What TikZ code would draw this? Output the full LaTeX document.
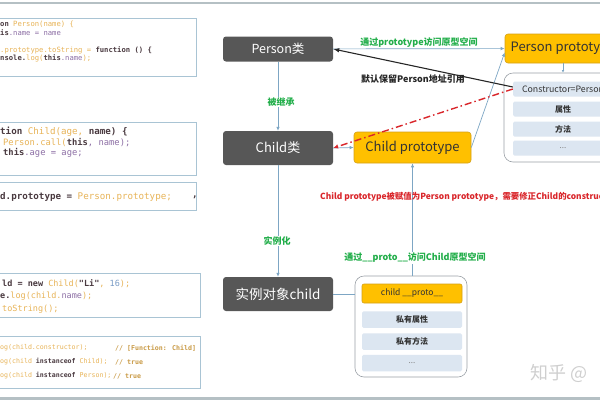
\documentclass[tikz,border=0pt]{standalone}
\usepackage{fontspec}
\setmainfont{Noto Sans CJK SC}
\newfontfamily\codefont{DejaVu Sans Mono}
\usetikzlibrary{arrows.meta, positioning}
\usepackage{xcolor}
\definecolor{nodegrey}{HTML}{575757}
\definecolor{protoyellow}{HTML}{FFC000}
\definecolor{protoedge}{HTML}{D4A017}
\definecolor{slotblue}{HTML}{DCE6F1}
\definecolor{holderedge}{HTML}{9AA0A6}
\definecolor{linkblue}{HTML}{7DA6C4}
\definecolor{notegreen}{HTML}{22AE4A}
\definecolor{notered}{HTML}{D9262B}
\definecolor{codeedge}{HTML}{A9C4D4}
\definecolor{codeorange}{HTML}{E8B458}
\definecolor{codedark}{HTML}{4A3A40}
\definecolor{codepurple}{HTML}{8D6FA5}
\definecolor{codenum}{HTML}{7A9CC6}
\definecolor{codecomment}{HTML}{C99A45}
\definecolor{framegrey}{HTML}{B5C0C4}
\definecolor{markgrey}{HTML}{CFCFCF}
\newcommand{\fsize}[1]{\fontsize{#1}{#1}\selectfont}
\newcommand{\codekw}[1]{\textcolor{codedark}{\bfseries #1}}
\newcommand{\codeid}[1]{\textcolor{codeorange}{#1}}
\newcommand{\codevar}[1]{\textcolor{codepurple}{#1}}
\newcommand{\codeno}[1]{\textcolor{codenum}{#1}}
\newcommand{\codecm}[1]{\textcolor{codecomment}{\bfseries #1}}

\begin{document}
\begin{tikzpicture}[x=1pt, y=-1pt, >={Latex[length=4pt,width=3.5pt]}]
    \tikzstyle{class node}=[rectangle, rounded corners=3pt, fill=nodegrey, text=white, minimum width=110pt, inner sep=0pt]
    \tikzstyle{proto node}=[rectangle, rounded corners=3pt, fill=protoyellow, draw=protoedge, line width=0.6pt, text=black!80, inner sep=0pt]
    \tikzstyle{holder}=[rectangle, rounded corners=9pt, draw=holderedge, fill=white, line width=0.6pt, inner sep=0pt]
    \tikzstyle{slot}=[rectangle, rounded corners=1.5pt, fill=slotblue, minimum width=100pt, inner sep=0pt, text=black!80, font=\fsize{8}]
    \tikzstyle{link}=[->, draw=linkblue, line width=0.7pt]
    \tikzstyle{note}=[inner sep=1pt, font=\fsize{9}\bfseries]
    \tikzstyle{codebox}=[rectangle, draw=codeedge, fill=white, anchor=north west, inner sep=0pt, line width=0.8pt]
    \tikzstyle{code}=[anchor=west, inner sep=0pt]

    \useasboundingbox (0,0) rectangle (600,400);
    \clip (0,0) rectangle (600,400);

    % Frame lines
    \draw[framegrey, line width=1.5pt] (0,3) -- (600,3);
    \draw[framegrey, line width=2.5pt] (0,398.5) -- (600,398.5);

    % Draw the code boxes
    \node[codebox, minimum width=206pt, minimum height=58pt] (code-1) at (-10,18) {};
    \node[codebox, minimum width=206pt, minimum height=53pt] (code-2) at (-10,122) {};
    \node[codebox, minimum width=206pt, minimum height=28pt] (code-3) at (-10,182) {};
    \node[codebox, minimum width=210pt, minimum height=44pt] (code-4) at (-10,273) {};
    \node[codebox, minimum width=210pt, minimum height=52pt] (code-5) at (-10,336) {};

    % Code lines
    \node[code, font=\codefont\fsize{7.2}] (l1-1) at (0,24) {\codekw{on} \codeid{Person(name) \{}};
    \node[code, font=\codefont\fsize{7.2}] (l1-2) at (0,33) {\codekw{is}\codevar{.name = name}};
    \node[code, font=\codefont\fsize{7.2}] (l1-3) at (0,50) {\codeid{.prototype.toString =} \codekw{function () \{}};
    \node[code, font=\codefont\fsize{7.2}] (l1-4) at (0,58) {\codekw{nsole.}\codeid{log(}\codekw{this}\codevar{.name}\codeid{);}};

    \node[code, font=\codefont\fsize{9.2}] (l2-1) at (0,132) {\codekw{tion} \codeid{Child(age,} \codekw{name) \{}};
    \node[code, font=\codefont\fsize{8.8}] (l2-2) at (3,143) {\codeid{Person.call(}\codekw{this}\codevar{,} \codevar{name);}};
    \node[code, font=\codefont\fsize{8.8}] (l2-3) at (3,153) {\codekw{this}\codevar{.age = age;}};

    \node[code, font=\codefont\fsize{9.2}] (l3-1) at (0,197) {\codekw{d.prototype =} \codeid{Person.prototype;}};
    \node[code, font=\codefont\fsize{9.2}] (l3-2) at (192,197) {\codekw{,}};

    \node[code, font=\codefont\fsize{8.5}] (l4-1) at (2,284) {\codekw{ld = new} \codeid{Child(}\codekw{"Li"}\codeid{,} \codeno{16}\codeid{);}};
    \node[code, font=\codefont\fsize{8.5}] (l4-2) at (0,296.5) {\codekw{e.}\codeid{log(child.}\codevar{name}\codeid{);}};
    \node[code, font=\codefont\fsize{8.5}] (l4-3) at (2,309) {\codeid{toString();}};

    \node[code, font=\codefont\fsize{6.6}] (l5-1) at (0,348) {\codeid{og(child.constructor);}};
    \node[code, font=\codefont\fsize{6.6}] (l5-2) at (0,362) {\codeid{og(child} \codekw{instanceof} \codeid{Child);}};
    \node[code, font=\codefont\fsize{6.6}] (l5-3) at (0,376) {\codeid{og(child} \codekw{instanceof} \codeid{Person);}};
    \node[code, font=\codefont\fsize{6.6}] (c5-1) at (115,348) {\codecm{// [Function: Child]}};
    \node[code, font=\codefont\fsize{6.6}] (c5-2) at (115,362) {\codecm{// true}};
    \node[code, font=\codefont\fsize{6.6}] (c5-3) at (113,376) {\codecm{// true}};

    % Draw the class nodes
    \node[class node, minimum height=25pt, font=\fsize{12.5}] (person) at (278,49) {Person类};
    \node[class node, minimum height=34pt, font=\fsize{13}] (child) at (278,148) {Child类};
    \node[class node, minimum height=34pt, font=\fsize{13.5}] (inst) at (278,294) {实例对象child};

    % Draw the prototype nodes
    \node[proto node, minimum width=116pt, minimum height=29pt, font=\fsize{13}] (pproto) at (563,48.5) {Person prototype};
    \node[proto node, minimum width=117pt, minimum height=31pt, font=\fsize{13}] (cproto) at (412.5,147.5) {Child prototype};

    % Person prototype space
    \node[holder, minimum width=118pt, minimum height=89pt] (pbox) at (563,117.5) {};
    \foreach \name/\y/\txt in {1/89/{\fsize{8.8}Constructor=Person}, 2/109/\textbf{属性}, 3/129/\textbf{方法}, 4/148/{\color{black!50}...}}
        \node[slot, minimum height=15pt] (pslot-\name) at (563,\y) {\txt};

    % child __proto__ space
    \node[holder, minimum width=112pt, minimum height=101pt] (cbox) at (411,326.5) {};
    \node[proto node, rounded corners=2pt, minimum width=100pt, minimum height=19pt, font=\fsize{8.5}] (cslot-1) at (412,293.5) {child \_\_proto\_\_};
    \foreach \name/\y/\txt in {2/319.5/\textbf{私有属性}, 3/341.5/\textbf{私有方法}, 4/363/{\color{black!50}...}}
        \node[slot, minimum height=16.5pt] (cslot-\name) at (412,\y) {\txt};

    % Connect the nodes
    \draw[link] (person) -- (pproto);
    \draw[link, -{Latex[length=2.5pt,width=2.5pt]}] (pproto) -- (pbox);
    \draw[link] (person) -- (child);
    \draw[link] (child) -- (inst);
    \draw[link] (child.east) -- (cproto.west);
    \draw[link] (cproto.east) -- ([yshift=-4pt]pproto.west);
    \draw[link] (cproto.south |- cbox.north) -- (cproto.south);
    \draw[link, -] (inst.east) -- (inst.east -| cbox.west);
    \draw[black!85, line width=1.1pt, -{Latex[length=6pt,width=4.5pt]}] ([yshift=2pt]pslot-1.west) -- (person.east);
    \draw[notered, line width=1.4pt, dash pattern=on 7pt off 3pt on 1.5pt off 3pt, -{Latex[length=5pt,width=4.5pt]}] (pslot-1.west) -- (child.east);

    % Annotate the connectors
    \node[note, text=notegreen] (l-proto) at (419,42.5) {通过prototype访问原型空间};
    \node[note, text=black!85] (l-keep) at (413,79) {默认保留Person地址引用};
    \node[note, text=notegreen, fill=white] (l-inherit) at (281,102) {被继承};
    \node[note, text=notered, anchor=west, font=\fsize{8.4}\bfseries] (l-fix) at (319,197) {Child prototype被赋值为Person prototype，需要修正Child的constructor};
    \node[note, text=notegreen, fill=white] (l-new) at (277,241) {实例化};
    \node[note, text=notegreen, fill=white] (l-access) at (415,258) {通过\_\_proto\_\_访问Child原型空间};

    % Watermark
    \node[anchor=west, text=markgrey, font=\fsize{18}] (mark) at (527,373) {知乎 @};
\end{tikzpicture}
\end{document}
